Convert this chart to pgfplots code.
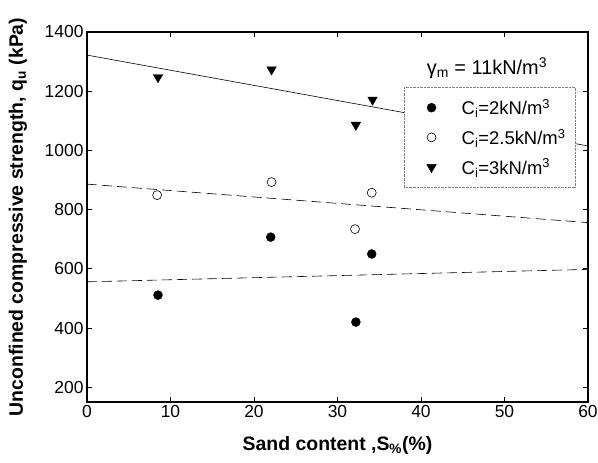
\documentclass[border=0pt]{standalone}
\usepackage{fontspec}
\setmainfont{Liberation Sans}
\usepackage{pgfplots}
\pgfplotsset{compat=1.18}
\begin{document}
\begin{tikzpicture}
\useasboundingbox (-87bp,-61bp) rectangle (511bp,402bp);
\begin{axis}[
 scale only axis, width=501bp, height=370bp,
 xmin=0, xmax=60, ymin=150, ymax=1400,
 xtick={0,10,...,60}, ytick={200,400,...,1400},
 tick align=inside, major tick length=5bp,
 tick style={line width=0.9pt, black},
 ticklabel style={font=\fontsize{17.5}{20}\selectfont},
 /pgf/number format/assume math mode=true,
 /pgf/number format/1000 sep={},
 xlabel={Sand content ,S\textsubscript{\%}(\%)},
 ylabel={Unconfined compressive strength, q\textsubscript{u} (kPa)},
 label style={font=\fontsize{19.5}{22}\selectfont\bfseries},
 xlabel style={at={(axis description cs:0.5,-0.117)}, anchor=center},
 ylabel style={at={(axis description cs:-0.138,0.5)}, anchor=center},
 axis line style={line width=1.2pt},
 legend style={at={(axis description cs:0.633,0.851)}, anchor=north west,
   draw=gray, densely dotted, fill=white, font=\fontsize{18.5}{22}\selectfont,
   inner xsep=8bp, inner ysep=10bp, row sep=9bp},
 legend cell align=left,
 legend image post style={solid},
 legend image code/.code={\path (-19bp,0bp) (20bp,0bp); \draw[solid] plot coordinates {(0bp,0bp)};},
 /tikz/every odd column/.append style={column sep=8bp},
]
% regression lines
\addplot[black, line width=0.6pt, forget plot] coordinates {(0,1322) (60,1015)};
\addplot[black, line width=0.6pt, dash pattern=on 10bp off 5bp, forget plot] coordinates {(0,886) (60,756)};
\addplot[black, line width=0.6pt, dash pattern=on 10bp off 5bp, forget plot] coordinates {(0,556) (60,598)};
% data
\addplot[only marks, mark=*, mark size=4.5bp, mark options={solid, fill=black, draw=black}] coordinates {
 (8.5,511) (22,707) (32.2,420) (34.1,650)};
\addlegendentry{C\textsubscript{i}=2kN/m\textsuperscript{3}}
\addplot[only marks, mark=o, mark size=4.5bp, mark options={solid, draw=black, line width=0.6pt}] coordinates {
 (8.4,849) (22.1,893) (32.1,734) (34.1,857)};
\addlegendentry{C\textsubscript{i}=2.5kN/m\textsuperscript{3}}
\addplot[only marks, mark=triangle*, mark size=5.5bp, mark options={solid, fill=black, draw=black, rotate=180}] coordinates {
 (8.5,1247) (22.1,1273) (32.2,1086) (34.2,1171)};
\addlegendentry{C\textsubscript{i}=3kN/m\textsuperscript{3}}
\node[font=\fontsize{20}{22}\selectfont] at (axis cs:47.9,1278) {γ\textsubscript{m} = 11kN/m\textsuperscript{3}};
\end{axis}
\end{tikzpicture}
\end{document}
